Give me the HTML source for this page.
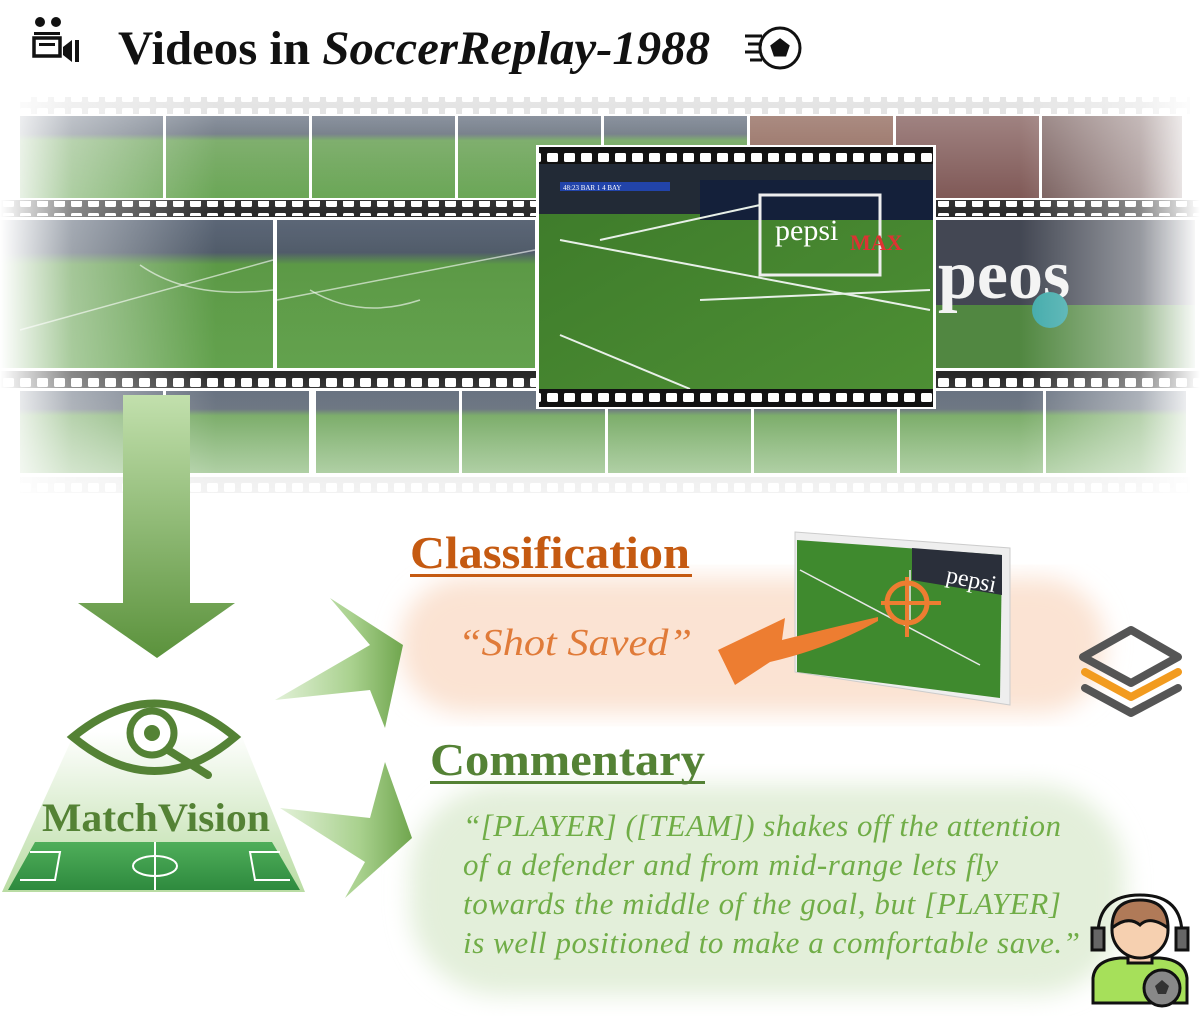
<!DOCTYPE html>
<html><head><meta charset="utf-8"><style>
html,body{margin:0;padding:0;background:#fff;}
svg{display:block}
text{font-family:"Liberation Serif",serif}
</style></head><body>
<svg width="1200" height="1027" viewBox="0 0 1200 1027" xmlns="http://www.w3.org/2000/svg">
<defs>
<pattern id="holes" x="0" y="0" width="17" height="15" patternUnits="userSpaceOnUse">
<rect x="3" y="3" width="11" height="9" rx="1.5" fill="#fff"/>
</pattern>
<linearGradient id="pitch" x1="0" y1="0" x2="0" y2="1">
<stop offset="0" stop-color="#4a5668"/><stop offset="0.22" stop-color="#3e4a5a"/><stop offset="0.3" stop-color="#4a8e32"/><stop offset="1" stop-color="#52983a"/>
</linearGradient>
<linearGradient id="pitch2" x1="0" y1="0" x2="1" y2="1">
<stop offset="0" stop-color="#3d7a2a"/><stop offset="1" stop-color="#4d8f34"/>
</linearGradient>
<linearGradient id="fadeL" x1="0" y1="0" x2="1" y2="0">
<stop offset="0" stop-color="#fff" stop-opacity="1"/><stop offset="0.06" stop-color="#fff" stop-opacity="0.5"/><stop offset="0.18" stop-color="#fff" stop-opacity="0.1"/><stop offset="0.85" stop-color="#fff" stop-opacity="0.1"/><stop offset="0.95" stop-color="#fff" stop-opacity="0.5"/><stop offset="1" stop-color="#fff" stop-opacity="1"/>
</linearGradient>
<linearGradient id="fadeV" x1="0" y1="0" x2="0" y2="1">
<stop offset="0" stop-color="#fff" stop-opacity="0.35"/><stop offset="0.3" stop-color="#fff" stop-opacity="0"/><stop offset="0.7" stop-color="#fff" stop-opacity="0"/><stop offset="1" stop-color="#fff" stop-opacity="0.6"/>
</linearGradient>
<linearGradient id="downArrow" x1="0" y1="0" x2="0" y2="1">
<stop offset="0" stop-color="#c2e0ad"/><stop offset="1" stop-color="#5b923c"/>
</linearGradient>
<linearGradient id="rArrow" x1="0" y1="0" x2="1" y2="0">
<stop offset="0" stop-color="#e2f1d8"/><stop offset="0.6" stop-color="#a9d18e"/><stop offset="1" stop-color="#70a64e"/>
</linearGradient>
<linearGradient id="trap" x1="0" y1="0" x2="0" y2="1">
<stop offset="0" stop-color="#fff"/><stop offset="1" stop-color="#b9dca3"/>
</linearGradient>
<linearGradient id="field" x1="0" y1="0" x2="0" y2="1">
<stop offset="0" stop-color="#4fae5a"/><stop offset="1" stop-color="#2e8a3e"/>
</linearGradient>
<filter id="blur8"><feGaussianBlur stdDeviation="12"/></filter>
</defs>

<g fill="#111">
<circle cx="40" cy="22" r="5"/><circle cx="56" cy="22" r="5"/>
<rect x="34" y="32" width="26" height="3"/>
<rect x="34" y="38" width="26" height="18" fill="none" stroke="#111" stroke-width="3.5"/>
<rect x="39" y="43" width="16" height="3"/>
<polygon points="63,47 72,40 72,62 63,55"/>
<rect x="75" y="40" width="4" height="22"/>
</g>
<text x="118" y="64" font-size="48" font-weight="bold" fill="#111" textLength="592" lengthAdjust="spacingAndGlyphs">Videos in <tspan font-style="italic">SoccerReplay-1988</tspan></text>
<g stroke="#111" stroke-width="3" fill="none">
<line x1="745" y1="36" x2="762" y2="36"/><line x1="748" y1="44" x2="762" y2="44"/><line x1="745" y1="52" x2="760" y2="52"/><line x1="750" y1="60" x2="762" y2="60"/>
<circle cx="780" cy="48" r="20"/>
<polygon points="780,40 788,46 785,55 775,55 772,46" fill="#111"/>
</g>

<g>
<rect x="20" y="97" width="1170" height="17" fill="#d4d4d4"/>
<rect x="20" y="97" width="1170" height="17" fill="url(#holes)"/>
<rect x="0" y="200" width="1200" height="17" fill="#111"/>
<rect x="0" y="201" width="1200" height="15" fill="url(#holes)"/>
<rect x="0" y="371" width="1200" height="17" fill="#111"/>
<rect x="0" y="372" width="1200" height="15" fill="url(#holes)"/>
<rect x="20" y="477" width="1170" height="16" fill="#ddd"/>
<rect x="20" y="478" width="1170" height="15" fill="url(#holes)"/>
<g fill="url(#pitch)">
<rect x="20" y="116" width="143" height="82"/>
<rect x="166" y="116" width="143" height="82"/>
<rect x="312" y="116" width="143" height="82"/>
<rect x="458" y="116" width="143" height="82"/>
<rect x="604" y="116" width="143" height="82"/>
<rect x="750" y="116" width="143" height="82" fill="#7b4a3a"/>
<rect x="896" y="116" width="143" height="82" fill="#6a3d3a"/>
<rect x="1042" y="116" width="140" height="82" fill="#5a3a38"/>
</g>
<rect x="0" y="220" width="273" height="148" fill="url(#pitch)"/>
<rect x="277" y="220" width="258" height="148" fill="url(#pitch)"/>
<rect x="935" y="220" width="260" height="148" fill="#3e7a2c"/>
<rect x="935" y="220" width="260" height="85" fill="#2e3340"/>
<text x="938" y="298" font-family="Liberation Sans,sans-serif" font-size="70" font-weight="bold" fill="#f2f2f2">peos</text>
<circle cx="1050" cy="310" r="18" fill="#2aa0a0"/>
<g fill="url(#pitch)">
<rect x="20" y="391" width="143" height="82"/>
<rect x="166" y="391" width="143" height="82"/>
<rect x="316" y="391" width="143" height="82"/>
<rect x="462" y="391" width="143" height="82"/>
<rect x="608" y="391" width="143" height="82"/>
<rect x="754" y="391" width="143" height="82"/>
<rect x="900" y="391" width="143" height="82"/>
<rect x="1046" y="391" width="140" height="82"/>
</g>
<g stroke="#fff" stroke-opacity="0.6" stroke-width="1.5" fill="none">
<path d="M20 330 L273 260"/><path d="M140 265 Q190 300 273 290"/>
<path d="M277 300 L535 250"/><path d="M310 290 Q360 320 420 300"/>
</g>
<rect x="0" y="95" width="1200" height="400" fill="url(#fadeL)"/>
<rect x="0" y="95" width="1200" height="400" fill="url(#fadeV)"/>
<rect x="536" y="145" width="400" height="264" fill="#fff"/>
<rect x="539" y="147" width="394" height="17" fill="#111"/>
<rect x="539" y="148" width="394" height="15" fill="url(#holes)"/>
<rect x="539" y="164" width="394" height="225" fill="url(#pitch2)"/>
<rect x="539" y="164" width="394" height="50" fill="#222a36"/>
<rect x="700" y="180" width="233" height="40" fill="#14203a"/>
<rect x="560" y="182" width="110" height="9" fill="#2244aa"/>
<text x="563" y="190" font-family="Liberation Sans,sans-serif" font-size="7" fill="#fff">48:23 BAR 1 4 BAY</text>
<rect x="760" y="195" width="120" height="80" fill="none" stroke="#eee" stroke-width="3"/>
<text x="775" y="240" font-family="Liberation Sans,sans-serif" font-size="30" fill="#fff">pepsi</text>
<text x="850" y="250" font-family="Liberation Sans,sans-serif" font-size="22" font-weight="bold" fill="#d33">MAX</text>
<g stroke="#e8f0e8" stroke-width="2" fill="none">
<path d="M560 240 L930 310"/><path d="M600 240 L760 205"/><path d="M560 335 L690 389"/><path d="M700 300 L930 290"/>
</g>
<rect x="539" y="389" width="394" height="18" fill="#111"/>
<rect x="539" y="391" width="394" height="15" fill="url(#holes)"/>
</g>

<polygon points="123,395 190,395 190,603 235,603 157,658 78,603 123,603" fill="url(#downArrow)"/>

<rect x="400" y="578" width="705" height="135" rx="65" fill="#fbe3d3" filter="url(#blur8)"/>
<rect x="410" y="785" width="715" height="210" rx="90" fill="#e3efda" filter="url(#blur8)"/>

<polygon points="275,700 370,645 330,598 403,645 385,728 370,690" fill="url(#rArrow)"/>
<polygon points="280,808 370,818 385,762 412,838 345,898 365,862" fill="url(#rArrow)"/>

<polygon points="75,732 240,732 305,892 2,892" fill="url(#trap)"/>
<polygon points="35,842 272,842 300,890 8,890" fill="url(#field)"/>
<g stroke="#fff" stroke-width="2" fill="none">
<line x1="155" y1="842" x2="155" y2="890"/><ellipse cx="155" cy="866" rx="22" ry="10"/>
<path d="M30 852 L60 852 L55 880 L20 880"/><path d="M280 852 L250 852 L255 880 L290 880"/>
</g>
<path d="M73,737 Q155,670 235,737 Q155,805 73,737 Z" fill="none" stroke="#548235" stroke-width="8"/>
<circle cx="152" cy="733" r="22" fill="#fff" stroke="#548235" stroke-width="7"/>
<circle cx="152" cy="733" r="8" fill="#548235"/>
<line x1="168" y1="750" x2="208" y2="775" stroke="#548235" stroke-width="8" stroke-linecap="round"/>
<text x="42" y="831" font-size="40" font-weight="bold" fill="#548235" textLength="228" lengthAdjust="spacingAndGlyphs">MatchVision</text>

<text x="410" y="568" font-size="45" font-weight="bold" fill="#c55a11" textLength="280" lengthAdjust="spacingAndGlyphs">Classification</text>
<rect x="410" y="574" width="282" height="3" fill="#c55a11"/>
<text x="458" y="655" font-size="38" font-style="italic" fill="#e07b39" textLength="234" lengthAdjust="spacingAndGlyphs">“Shot Saved”</text>

<polygon points="795,532 1010,548 1010,705 795,672" fill="#eee" stroke="#ccc"/>
<polygon points="797,540 1002,555 1000,698 797,672" fill="#3f8a2e"/>
<polygon points="912,548 1002,555 1002,595 912,580" fill="#2a2f3a"/>
<text x="945" y="582" font-family="Liberation Sans,sans-serif" font-size="24" fill="#fff" transform="rotate(12 945 582)">pepsi</text>
<g stroke="#e8e8e8" stroke-width="1.5" fill="none"><path d="M800 570 L980 665"/><path d="M910 570 L910 620"/></g>
<circle cx="907" cy="603" r="20" fill="none" stroke="#ed7d31" stroke-width="5"/>
<g stroke="#ed7d31" stroke-width="4"><line x1="907" y1="577" x2="907" y2="637"/><line x1="881" y1="603" x2="941" y2="603"/></g>
<path d="M878,617 Q830,628 782,640 L785,618 L718,650 L735,685 L770,662 Q830,648 878,621 Z" fill="#ed7d31"/>

<g fill="none" stroke-width="8" stroke-linejoin="round" stroke-linecap="round">
<polygon points="1131,630 1178,657 1131,683 1083,657" stroke="#555"/>
<polyline points="1085,672 1131,697 1178,672" stroke="#f29b1f"/>
<polyline points="1085,688 1131,713 1178,688" stroke="#555"/>
</g>

<text x="430" y="775" font-size="45" font-weight="bold" fill="#548235" textLength="275" lengthAdjust="spacingAndGlyphs">Commentary</text>
<rect x="430" y="781" width="275" height="3" fill="#548235"/>
<g font-size="31" font-style="italic" fill="#70ad47" lengthAdjust="spacingAndGlyphs">
<text x="463" y="836" textLength="598">“[PLAYER] ([TEAM]) shakes off the attention</text>
<text x="463" y="875" textLength="535">of a defender and from mid-range lets fly</text>
<text x="463" y="914" textLength="598">towards the middle of the goal, but [PLAYER]</text>
<text x="463" y="953" textLength="617">is well positioned to make a comfortable save.”</text>
</g>

<g stroke="#111" stroke-width="3">
<path d="M1098,935 Q1098,895 1140,895 Q1182,895 1182,935" fill="none"/>
<rect x="1092" y="928" width="12" height="22" fill="#666"/>
<rect x="1176" y="928" width="12" height="22" fill="#666"/>
<path d="M1093,1003 L1093,978 Q1095,960 1120,958 L1160,958 Q1185,960 1187,978 L1187,1003 Z" fill="#a6e05a"/>
<rect x="1128" y="945" width="24" height="18" fill="#f6d0b0"/>
<ellipse cx="1140" cy="930" rx="28" ry="28" fill="#f6d0b0"/>
<path d="M1112,928 Q1112,900 1140,900 Q1168,900 1168,928 Q1150,915 1140,925 Q1128,915 1112,928 Z" fill="#b07a58"/>
<circle cx="1162" cy="988" r="18" fill="#888"/>
<polygon points="1162,980 1169,986 1166,994 1158,994 1155,986" fill="#333" stroke="none"/>
</g>
</svg>
</body></html>
